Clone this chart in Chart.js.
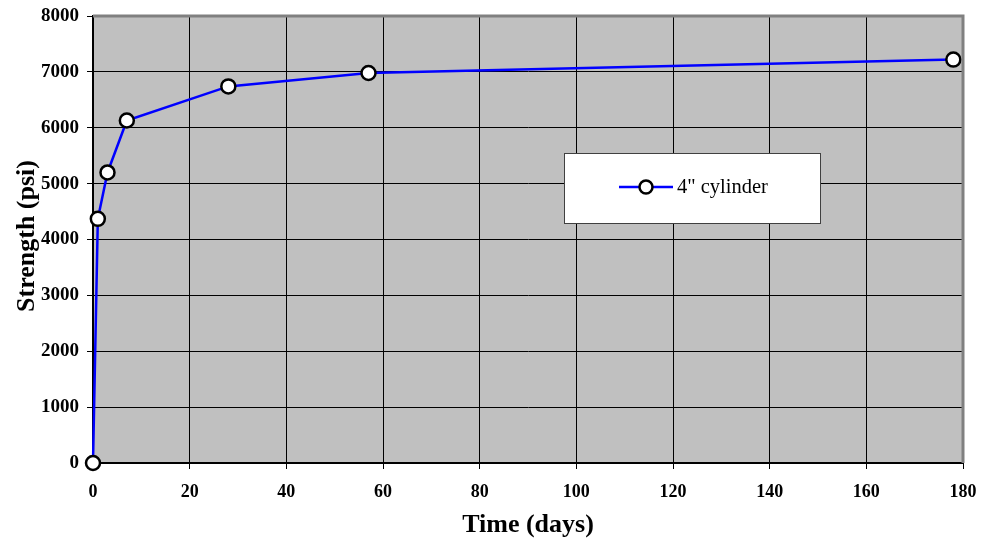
<!DOCTYPE html>
<html>
<head>
<meta charset="utf-8">
<script src="https://cdn.jsdelivr.net/npm/chart.js@4/dist/chart.umd.min.js"></script>
<style>
  html, body { margin: 0; padding: 0; background: #ffffff; }
  canvas { display: block; }
</style>
</head>
<body>
<canvas id="c" width="984" height="549"></canvas>
<script>
// Compressive strength gain of a 4" concrete cylinder over time
const seriesLabel = '4" cylinder';
const days = [0, 1, 3, 7, 28, 57, 178];
const strengthPsi = [0, 4370, 5200, 6130, 6740, 6980, 7220];
const xTicks = [0, 20, 40, 60, 80, 100, 120, 140, 160, 180];
const yTicks = [0, 1000, 2000, 3000, 4000, 5000, 6000, 7000, 8000];
const xTitle = 'Time (days)';
const yTitle = 'Strength (psi)';

const SERIF = '"Liberation Serif", "Times New Roman", serif';

const plotBackground = {
  id: 'plotBackground',
  beforeDraw(chart) {
    const { ctx, chartArea: a } = chart;
    ctx.save();
    ctx.fillStyle = '#c0c0c0';
    ctx.fillRect(a.left, a.top, a.right - a.left, a.bottom - a.top);
    ctx.restore();
  }
};

const frameAndTitles = {
  id: 'frameAndTitles',
  afterDraw(chart) {
    const { ctx, chartArea: a } = chart;
    ctx.save();
    // gray frame on the top and right sides of the plot
    ctx.strokeStyle = '#808080';
    ctx.lineWidth = 3;
    ctx.beginPath();
    ctx.moveTo(a.left, a.top);
    ctx.lineTo(a.right, a.top);
    ctx.lineTo(a.right, a.bottom);
    ctx.stroke();

    // axis titles
    ctx.fillStyle = '#000';
    ctx.font = 'bold 26px ' + SERIF;
    ctx.textAlign = 'center';
    ctx.textBaseline = 'middle';
    ctx.fillText(xTitle, 528, 525);
    ctx.translate(27, 236);
    ctx.rotate(-Math.PI / 2);
    ctx.fillText(yTitle, 0, 0);
    ctx.restore();

    // legend box
    ctx.save();
    const bx = 564, by = 153, bw = 256, bh = 70;
    ctx.fillStyle = '#ffffff';
    ctx.fillRect(bx, by, bw, bh);
    ctx.strokeStyle = '#404040';
    ctx.lineWidth = 1;
    ctx.strokeRect(bx + 0.5, by + 0.5, bw, bh);
    const ly = 187;
    ctx.strokeStyle = '#0000ff';
    ctx.lineWidth = 2.5;
    ctx.beginPath();
    ctx.moveTo(619, ly);
    ctx.lineTo(673, ly);
    ctx.stroke();
    ctx.beginPath();
    ctx.arc(646, ly, 6.5, 0, Math.PI * 2);
    ctx.fillStyle = '#ffffff';
    ctx.fill();
    ctx.strokeStyle = '#000';
    ctx.lineWidth = 2.5;
    ctx.stroke();
    ctx.fillStyle = '#000';
    ctx.font = '20.5px ' + SERIF;
    ctx.textAlign = 'left';
    ctx.textBaseline = 'middle';
    ctx.fillText(seriesLabel, 677, ly + 1);
    ctx.restore();
  }
};

new Chart(document.getElementById('c'), {
  type: 'scatter',
  data: {
    datasets: [{
      label: seriesLabel,
      data: days.map((d, i) => ({ x: d, y: strengthPsi[i] })),
      showLine: true,
      borderColor: '#0000ff',
      borderWidth: 2.5,
      pointRadius: 7,
      pointBorderWidth: 2.5,
      pointBackgroundColor: '#ffffff',
      pointBorderColor: '#000000',
      clip: false,
      tension: 0
    }]
  },
  options: {
    responsive: false,
    animation: false,
    devicePixelRatio: 1,
    layout: { padding: { top: 16, right: 21, left: 0, bottom: 0 } },
    plugins: { legend: { display: false }, tooltip: { enabled: false } },
    scales: {
      x: {
        type: 'linear',
        min: 0, max: 180,
        afterBuildTicks(scale) { scale.ticks = xTicks.map(v => ({ value: v })); },
        afterFit(scale) {
          scale.height = 86;
          scale.paddingLeft = 0; scale.paddingRight = 0;
        },
        grid: { color: '#000', lineWidth: 1, tickLength: 6, drawTicks: true },
        border: { color: '#000', width: 2 },
        ticks: {
          color: '#000', padding: 13, maxRotation: 0,
          callback: v => String(v),
          font: { family: SERIF, size: 18, weight: 'bold' }
        }
      },
      y: {
        type: 'linear',
        min: 0, max: 8000,
        afterBuildTicks(scale) { scale.ticks = yTicks.map(v => ({ value: v })); },
        afterFit(scale) {
          scale.width = 93;
          scale.paddingTop = 0; scale.paddingBottom = 0;
        },
        grid: { color: '#000', lineWidth: 1, tickLength: 6, drawTicks: true },
        border: { color: '#000', width: 2 },
        ticks: {
          color: '#000', padding: 8,
          callback: v => String(v),
          font: { family: SERIF, size: 19, weight: 'bold' }
        }
      }
    }
  },
  plugins: [plotBackground, frameAndTitles]
});
</script>
</body>
</html>
